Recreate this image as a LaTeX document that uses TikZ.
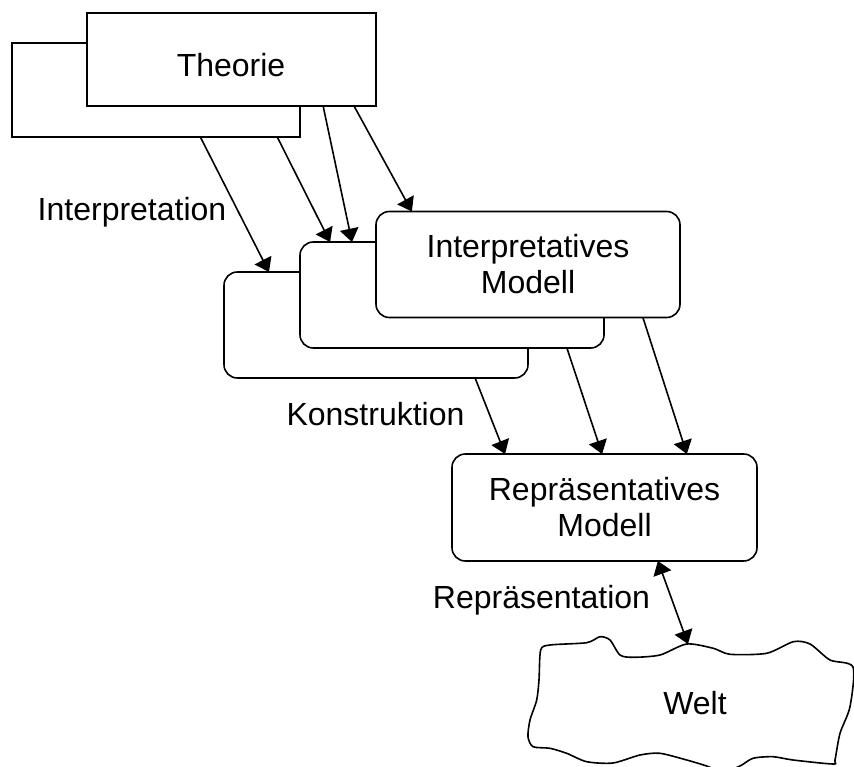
\documentclass[tikz,border=0pt]{standalone}
\usepackage{fontspec}
\setmainfont{Liberation Sans}
\usetikzlibrary{arrows.meta,calc}
\begin{document}
\begin{tikzpicture}[x=0.75pt,y=-0.75pt,line width=1.2pt,
  >={Triangle[length=10pt,width=14pt]},
  every node/.style={font=\fontsize{24}{27}\selectfont},
  box/.style={draw,fill=white,inner sep=0pt,outer sep=0pt,align=center},
  modell/.style={box,rounded corners=10pt,minimum width=228pt,minimum height=79.5pt},
  lbl/.style={anchor=base}]
\useasboundingbox (0,0) rectangle (854,767);
\node (thb) [box,minimum width=216pt,minimum height=70.5pt] at (156,90) {};
\node (thf) [box,minimum width=216.75pt,minimum height=69.75pt] at (231.5,59.5) {};
\node (theo) [lbl] at (231,77) {Theorie};
\foreach \n/\x/\y in {imb/376/325, imm/452/295}
  \node (\n) [modell] at (\x,\y) {};
\node (imf) [modell] at (528,264.5) {Interpretatives\\Modell};
\node (rm) [modell,minimum width=228.75pt,minimum height=80.25pt] at (604.5,507.5) {Repräsentatives\\Modell};
\foreach \a/\f/\b/\g in {thb/0.654/imb/0.148, thb/0.921/imm/0.099, thf/0.817/imm/0.171, thf/0.924/imf/0.118}
  \draw[->] ($(\a.south west)!\f!(\a.south east)$) -- ($(\b.north west)!\g!(\b.north east)$);
\foreach \a/\f/\g in {imb/0.826/0.174, imm/0.878/0.492, imf/0.878/0.770}
  \draw[->] ($(\a.south west)!\f!(\a.south east)$) -- ($(rm.north west)!\g!(rm.north east)$);
\draw plot[smooth cycle,tension=0.45] coordinates {(540.7,650) (550,645) (586.7,642.7) (600,636.7) (610,640)
  (620,655) (633.3,657.3) (660,655) (686.7,644) (713.3,648.3) (730,654.3) (766.7,653.3) (793.3,641.7)
  (810,644) (830,660) (853,667) (850,706.7) (840,733.3) (835,760) (833,764) (793,760) (773,756.7)
  (753,758.3) (740,766) (723,772) (706.7,766) (686.7,760) (660,753.3) (640,755) (613,763) (586.7,761.7)
  (566.7,753.3) (550,748.3) (533,746.7) (528,736.7) (530,720) (536.7,700) (539,680)};
\coordinate (welttop) at (688,644);
\node (welt) [lbl] at (695,714) {Welt};
\draw[<->] ($(rm.south west)!0.675!(rm.south east)$) -- (welttop);
\node (interp) [lbl] at (132,220) {Interpretation};
\node (konstr) [lbl] at (375.5,425) {Konstruktion};
\node (repr) [lbl] at (541.5,608) {Repräsentation};
\end{tikzpicture}
\end{document}
